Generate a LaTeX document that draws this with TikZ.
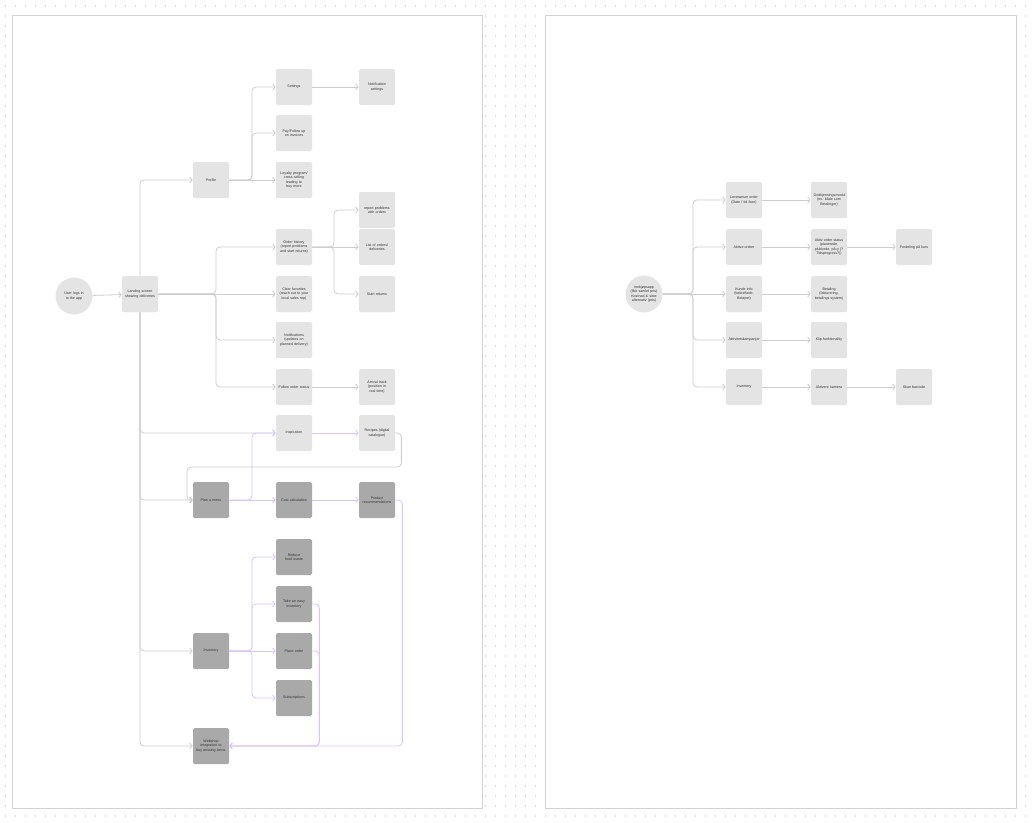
\documentclass[tikz,border=0pt]{standalone}
\usepackage{fontspec}
\setmainfont{Liberation Sans}
\usetikzlibrary{arrows.meta, positioning}

\definecolor{boxlight}{HTML}{E4E4E4}
\definecolor{boxdark}{HTML}{A9A9A9}
\definecolor{linkgray}{HTML}{CDCDCD}
\definecolor{linkpurple}{HTML}{D9C6F7}
\definecolor{panelline}{HTML}{D2D2D2}
\definecolor{dotgray}{HTML}{DCDCDC}
\definecolor{labelgray}{HTML}{333333}

\newcommand{\boxfont}{\fontsize{2.05}{2.6}\selectfont\hyphenpenalty=10000\exhyphenpenalty=10000\color{labelgray}}

\begin{document}
\begin{tikzpicture}[x=0.2mm, y=-0.2mm,
    screen/.style={rectangle, rounded corners=0.3mm, fill=boxlight, minimum width=7.2mm, minimum height=7.2mm, text width=6.2mm, align=center, inner sep=0pt, font=\boxfont},
    feature/.style={screen, fill=boxdark},
    start/.style={circle, fill=boxlight, minimum size=7.4mm, text width=6mm, align=center, inner sep=0pt, font=\boxfont},
    link/.style={draw=linkgray, line width=0.45pt, rounded corners=0.8mm, -{Straight Barb[length=0.5mm, width=1.2mm]}},
    flow/.style={link, draw=linkpurple},
    panel/.style={draw=panelline, fill=white, line width=0.4pt},
    dotrow/.style={draw=dotgray, line width=0.22mm, dash pattern=on 0.22mm off 1.78mm}
]
\useasboundingbox (0,0) rectangle (1032,822);

% Canvas with dot grid
\fill[white] (0,0) rectangle (1032,822);
\foreach \y in {6,16,...,816}
  \draw[dotrow] (5,\y) -- (1032,\y);

\draw[panel] (12,15) rectangle (482,808);
\draw[panel] (545,15) rectangle (1016,808);

% Left flow: app
\node[start] (login) at (74,296) {User logs in to the app};
\node[screen] (landing) at (140,294) {Landing screen showing deliveries};

\node[screen] (profile) at (211,180) {Profile};
\node[screen] (settings) at (294,87) {Settings};
\node[screen] (notifset) at (377,87) {Notification settings};
\node[screen] (invoices) at (294,133) {Pay/Follow up on invoices};
\node[screen] (loyalty) at (294,180) {Loyalty program/ cross selling leading to buy more};

\node[screen] (orderhist) at (294,247) {Order history (report problems and start returns)};
\node[screen] (problems) at (377,210) {report problems with orders};
\node[screen] (orderlist) at (377,247) {List of orders/ deliveries};
\node[screen] (returns) at (377,294) {Start returns};
\node[screen] (favorites) at (294,294) {Clear favorites (reach out to your local sales rep)};
\node[screen] (notif) at (294,340) {Notifications (updates on planned delivery)};
\node[screen] (status) at (294,387) {Follow order status};
\node[screen] (arrival) at (377,387) {Arrival track (position in real time)};

\node[screen] (inspiration) at (294,433) {Inspiration};
\node[screen] (recipes) at (377,433) {Recipes (digital catalogue)};

\node[feature] (plan) at (211,500) {Plan a menu};
\node[feature] (cost) at (294,500) {Cost calculation};
\node[feature] (prodrec) at (377,500) {Product recommendations};

\node[feature] (inventory) at (211,651) {Inventory};
\node[feature] (waste) at (294,557) {Reduce food waste};
\node[feature] (easyinv) at (294,604) {Take an easy inventory};
\node[feature] (place) at (294,651) {Place order};
\node[feature] (subs) at (294,698) {Subscriptions};
\node[feature] (webshop) at (211,746) {Webshop integration to buy missing items};

\coordinate (hubLanding) at (216,294);
\coordinate (hubProfile) at (252,180);
\coordinate (hubHistory) at (334,247);
\coordinate (hubPlan) at (252,500);
\coordinate (hubInv) at (252,651);
\coordinate (loopRecipes) at (187,467);

\draw[link] (login) -- (landing);
\draw[link] (landing.north) |- (profile.west);
\draw[link] (landing.south) |- (inspiration.west);
\draw[link] (landing.south) |- (plan.west);
\draw[link] (landing.south) |- (inventory.west);
\draw[link] (landing.south) |- (webshop.west);

\draw[link] (profile.east) -- (hubProfile) |- (settings.west);
\draw[link] (profile.east) -- (hubProfile) |- (invoices.west);
\draw[link] (profile.east) -- (loyalty.west);
\draw[link] (settings) -- (notifset);

\draw[link] (landing.east) -- (hubLanding) |- (orderhist.west);
\draw[link] (landing.east) -- (favorites.west);
\draw[link] (landing.east) -- (hubLanding) |- (notif.west);
\draw[link] (landing.east) -- (hubLanding) |- (status.west);
\draw[link] (orderhist.east) -- (hubHistory) |- (problems.west);
\draw[link] (orderhist.east) -- (orderlist.west);
\draw[link] (orderhist.east) -- (hubHistory) |- (returns.west);
\draw[link] (status) -- (arrival);

\draw[flow] (inspiration) -- (recipes);
\draw[link] (recipes.east) -- ++(6,0) |- (loopRecipes) |- (plan.west);
\draw[flow] (plan.east) -- (hubPlan) |- (inspiration.west);
\draw[flow] (plan) -- (cost);
\draw[flow] (cost) -- (prodrec);
\draw[flow] (prodrec.east) -- ++(7,0) |- (webshop.east);

\draw[flow] (inventory.east) -- (hubInv) |- (waste.west);
\draw[flow] (inventory.east) -- (hubInv) |- (easyinv.west);
\draw[flow] (inventory.east) -- (place.west);
\draw[flow] (inventory.east) -- (hubInv) |- (subs.west);
\draw[flow] (easyinv.east) -- ++(7,0) |- (webshop.east);
\draw[flow] (place.east) -- ++(7,0) |- (webshop.east);

% Right flow: purchasing app
\node[start] (buyapp) at (644,294) {Innkjøpsapp (fikk samlet pris) Kostnad \& siste alternativ (pris)};

\node[screen] (delivery) at (744,200) {Leveranser order (Dato / tid Ikon)};
\node[screen] (active) at (744,247) {Aktive ordrer};
\node[screen] (customer) at (744,294) {Kunde info (bekreftede, Beløpet)};
\node[screen] (campaigns) at (744,340) {Aktivitetskampanjer};
\node[screen] (stock) at (744,387) {Inventory};

\node[screen] (approval) at (829,200) {Godkjenningsmodul (ev. både som Betalinger)};
\node[screen] (livestatus) at (829,247) {Aktiv order status (planerede, plukkede, på g (? Tidsprogress?))};
\node[screen] (payment) at (829,294) {Betaling (fakturering, betalings system)};
\node[screen] (clip) at (829,340) {Klip funktionality};
\node[screen] (camera) at (829,387) {Aktivere kamera};

\node[screen] (share) at (914,247) {Fordeling på kurs};
\node[screen] (barcode) at (914,387) {Skan barcode};

\coordinate (hubBuy) at (693,294);

\draw[link] (buyapp.east) -- (hubBuy) |- (delivery.west);
\draw[link] (buyapp.east) -- (hubBuy) |- (active.west);
\draw[link] (buyapp.east) -- (customer.west);
\draw[link] (buyapp.east) -- (hubBuy) |- (campaigns.west);
\draw[link] (buyapp.east) -- (hubBuy) |- (stock.west);

\draw[link] (delivery) -- (approval);
\draw[link] (active) -- (livestatus);
\draw[link] (customer) -- (payment);
\draw[link] (campaigns) -- (clip);
\draw[link] (stock) -- (camera);
\draw[link] (livestatus) -- (share);
\draw[link] (camera) -- (barcode);

\end{tikzpicture}
\end{document}
